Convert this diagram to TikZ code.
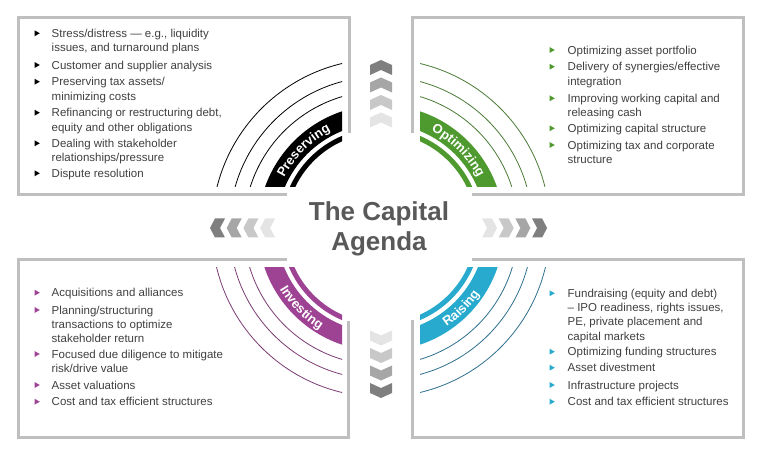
\documentclass[tikz,border=0pt]{standalone}
\usepackage{fontspec}
\setmainfont{Liberation Sans}
\usetikzlibrary{decorations.text}
\definecolor{txtc}{HTML}{3F3F3F}
\definecolor{bordc}{HTML}{BFBFBF}
\definecolor{titlec}{HTML}{595959}
\definecolor{cblack}{HTML}{000000}
\definecolor{cgreen}{HTML}{4E9A2E}
\definecolor{cgreenl}{HTML}{4A7A35}
\definecolor{cpurple}{HTML}{9E4394}
\definecolor{cpurplel}{HTML}{7B3A72}
\definecolor{ccyan}{HTML}{27AACD}
\definecolor{ccyanl}{HTML}{2D6E8E}
\definecolor{chA}{HTML}{7F7F7F}
\definecolor{chB}{HTML}{A6A6A6}
\definecolor{chC}{HTML}{C8C8C8}
\definecolor{chD}{HTML}{E4E4E4}
\newcommand\capchev[5]{\fill[#5,shift={(#1,#2)},rotate=#3] (7.5,0) -- (2.5,#4) -- (-7.5,#4) -- (-2.5,0) -- (-7.5,-#4) -- (2.5,-#4) -- cycle;}
\newcommand\bullettri[3]{\fill[#3] (#1-2.5,#2+3) -- (#1+2.8,#2) -- (#1-2.5,#2-3) -- cycle;}
\newcommand\bandfont{\fontsize{13}{15}\selectfont\bfseries}
\begin{document}
\begin{tikzpicture}[x=1pt,y=1pt,
  every node/.style={inner sep=0pt,outer sep=0pt},
  item/.style={anchor=north west,align=left,text=txtc,font=\fontsize{11.5}{14.3}\selectfont},
  boxline/.style={draw=bordc,line width=3pt},
  thinarc/.style={line width=0.8pt},
  band/.style={line width=18.5pt},
  innerband/.style={line width=5pt},
  titlestyle/.style={align=center,text=titlec,font=\fontsize{26}{30}\selectfont\bfseries},
  bandtext/.style={decorate,decoration={text along path,text align=center,text color=white,text={|\bandfont|#1}}}]
\useasboundingbox (0,0) rectangle (764,456);
\coordinate (C) at (381,228);

% box borders
\draw[boxline] (287,261) -- (18,261) -- (18,438) -- (349,438) -- (349,323);
\draw[boxline] (412,323) -- (412,438) -- (743,438) -- (743,261) -- (472,261);
\draw[boxline] (287,196) -- (18,196) -- (18,19) -- (348,19) -- (348,135);
\draw[boxline] (412,136) -- (412,19) -- (743,19) -- (743,196) -- (472,196);

% top-left arcs
\begin{scope}
\clip (0,269) rectangle (342,456);
\foreach \r in {169,151.5,137}
  \draw[thinarc,cblack] (C) ++(180:\r) arc[start angle=180,end angle=90,radius=\r];
\draw[band,cblack] (C) ++(180:113.75) arc[start angle=180,end angle=90,radius=113.75];
\draw[innerband,cblack] (C) ++(180:97.5) arc[start angle=180,end angle=90,radius=97.5];
\end{scope}
% top-right arcs
\begin{scope}
\clip (420,269) rectangle (764,456);
\foreach \r in {169,151.5,137}
  \draw[thinarc,cgreenl] (C) ++(90:\r) arc[start angle=90,end angle=0,radius=\r];
\draw[band,cgreen] (C) ++(90:113.75) arc[start angle=90,end angle=0,radius=113.75];
\draw[innerband,cgreen] (C) ++(90:97.5) arc[start angle=90,end angle=0,radius=97.5];
\end{scope}
% bottom-left arcs
\begin{scope}
\clip (0,0) rectangle (342,188);
\foreach \r in {169,151.5,137}
  \draw[thinarc,cpurplel] (C) ++(180:\r) arc[start angle=180,end angle=270,radius=\r];
\draw[band,cpurple] (C) ++(180:113.75) arc[start angle=180,end angle=270,radius=113.75];
\draw[innerband,cpurple] (C) ++(180:97.5) arc[start angle=180,end angle=270,radius=97.5];
\end{scope}
% bottom-right arcs
\begin{scope}
\clip (420,0) rectangle (764,188);
\foreach \r in {169,151.5,137}
  \draw[thinarc,ccyanl] (C) ++(270:\r) arc[start angle=270,end angle=360,radius=\r];
\draw[band,ccyan] (C) ++(270:113.75) arc[start angle=270,end angle=360,radius=113.75];
\draw[innerband,ccyan] (C) ++(270:97.5) arc[start angle=270,end angle=360,radius=97.5];
\end{scope}

% band labels
\path[bandtext=Preserving] (C) ++(180:109.1) arc[start angle=180,end angle=90,radius=109.1];
\path[bandtext=Optimizing] (C) ++(90:109.1) arc[start angle=90,end angle=0,radius=109.1];
\path[bandtext=Investing] (C) ++(180:118.4) arc[start angle=180,end angle=270,radius=118.4];
\path[bandtext=Raising] (C) ++(270:118.4) arc[start angle=270,end angle=360,radius=118.4];

% title
\node[titlestyle,anchor=north] (title) at (379,256.7) {\strut The Capital\\Agenda};

% chevrons
\capchev{217.5}{228}{180}{9.5}{chA}
\capchev{234.2}{228}{180}{9.5}{chB}
\capchev{250.9}{228}{180}{9.5}{chC}
\capchev{267.6}{228}{180}{9.5}{chD}
\capchev{489.5}{228}{0}{9.5}{chD}
\capchev{506.2}{228}{0}{9.5}{chC}
\capchev{522.9}{228}{0}{9.5}{chB}
\capchev{539.6}{228}{0}{9.5}{chA}
\capchev{381}{388.5}{90}{11}{chA}
\capchev{381}{371}{90}{11}{chB}
\capchev{381}{353.5}{90}{11}{chC}
\capchev{381}{336}{90}{11}{chD}
\capchev{381}{118}{-90}{11}{chD}
\capchev{381}{100.5}{-90}{11}{chC}
\capchev{381}{83}{-90}{11}{chB}
\capchev{381}{65.5}{-90}{11}{chA}

% top-left items
\node[item] (tl1) at (51.7,428.7) {\strut Stress/distress — e.g., liquidity\\issues, and turnaround plans};
\node[item] (tl2) at (51.7,397.0) {\strut Customer and supplier analysis};
\node[item] (tl3) at (51.7,380.3) {\strut Preserving tax assets/\\minimizing costs};
\node[item] (tl4) at (51.7,349.3) {\strut Refinancing or restructuring debt,\\equity and other obligations};
\node[item] (tl5) at (51.7,318.7) {\strut Dealing with stakeholder\\relationships/pressure};
\node[item] (tl6) at (51.7,288.7) {\strut Dispute resolution};
\foreach \yb in {418.7,387,370.3,339.3,308.7,278.7} {\bullettri{37}{\yb+4}{cblack}}

% top-right items
\node[item] (tr1) at (567.7,412.0) {\strut Optimizing asset portfolio};
\node[item] (tr2) at (567.7,395.3) {\strut Delivery of synergies/effective\\integration};
\node[item] (tr3) at (567.7,363.7) {\strut Improving working capital and\\releasing cash};
\node[item] (tr4) at (567.7,333.7) {\strut Optimizing capital structure};
\node[item] (tr5) at (567.7,317.0) {\strut Optimizing tax and corporate\\structure};
\foreach \yb in {402,385.3,353.7,323.7,307} {\bullettri{552}{\yb+4}{cgreen}}

% bottom-left items
\node[item] (bl1) at (51.7,169.3) {\strut Acquisitions and alliances};
\node[item] (bl2) at (51.7,152.0) {\strut Planning/structuring\\transactions to optimize\\stakeholder return};
\node[item] (bl3) at (51.7,108.0) {\strut Focused due diligence to mitigate\\risk/drive value};
\node[item] (bl4) at (51.7,77.0) {\strut Asset valuations};
\node[item] (bl5) at (51.7,60.3) {\strut Cost and tax efficient structures};
\foreach \yb in {159.3,142,98,67,50.3} {\bullettri{37}{\yb+4}{cpurple}}

% bottom-right items
\node[item] (br1) at (567.7,168.7) {\strut Fundraising (equity and debt)\\– IPO readiness, rights issues,\\PE, private placement and\\capital markets};
\node[item] (br2) at (567.7,110.3) {\strut Optimizing funding structures};
\node[item] (br3) at (567.7,94.3) {\strut Asset divestment};
\node[item] (br4) at (567.7,77.0) {\strut Infrastructure projects};
\node[item] (br5) at (567.7,60.3) {\strut Cost and tax efficient structures};
\foreach \yb in {158.7,100.3,84.3,67,50.3} {\bullettri{552}{\yb+4}{ccyan}}
\end{tikzpicture}
\end{document}
